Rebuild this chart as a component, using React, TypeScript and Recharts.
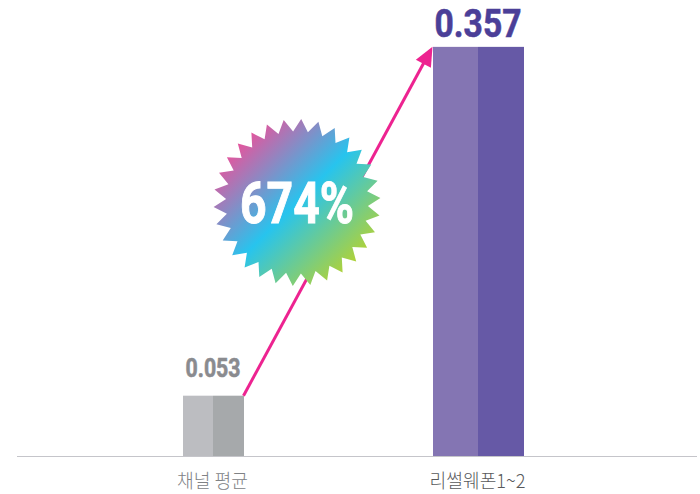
import { Bar, BarChart, ReferenceLine, XAxis, YAxis } from "recharts";

const categories = ["채널 평균", "리썰웨폰1~2"];
const frontValues = [0.053, 0.357];
const backValues = [0.053, 0.357];
const uplift = "674%";

const frontWidths = [30, 45];
const backWidths = [31, 46];
const frontColors = ["#bcbdc1", "#8475b3"];
const backColors = ["#a6a9ab", "#6659a6"];
const labelColors = ["#8a8b8f", "#4b3f98"];
const labelSizes = [25.5, 39.5];
const labelWidths = [55, 87];
const tickColors = ["#808285", "#58595b"];
const tickWidths = [71, 96];

const data = categories.map((name, i) => ({
  name,
  front: frontValues[i],
  back: backValues[i],
}));

const condensed = "Roboto, sans-serif";

const starPoints = (cx: number, cy: number, outer: number, inner: number, spikes: number) => {
  const pts: string[] = [];
  for (let i = 0; i < spikes * 2; i++) {
    const r = i % 2 === 0 ? outer : inner;
    const a = ((i * Math.PI) / spikes) - Math.PI / 2 + 0.05;
    pts.push(`${(cx + r * Math.cos(a)).toFixed(1)},${(cy + r * Math.sin(a)).toFixed(1)}`);
  }
  return pts.join(" ");
};

// arrow runs from the top corner of the first bar to the top corner of the second
const ArrowAndBadge = (props: any) => {
  const x1 = props.x1 + backWidths[0];
  const y1 = props.y1;
  const x2 = props.x2 - frontWidths[1];
  const y2 = props.y2;
  const angle = Math.atan2(y2 - y1, x2 - x1);
  const head = 21;
  const spread = 0.42;
  const p1 = [x2 - head * Math.cos(angle - spread), y2 - head * Math.sin(angle - spread)];
  const p2 = [x2 - head * Math.cos(angle + spread), y2 - head * Math.sin(angle + spread)];
  return (
    <g>
      <line
        x1={x1}
        y1={y1}
        x2={x2 - 15 * Math.cos(angle)}
        y2={y2 - 15 * Math.sin(angle)}
        stroke="#ed2390"
        strokeWidth={3}
      />
      <polygon points={`${x2},${y2} ${p1.join(",")} ${p2.join(",")}`} fill="#ed2390" />
      <polygon points={starPoints(297, 202.5, 83.5, 71, 30)} fill="url(#badge)" />
      <text
        x={297}
        y={223}
        textAnchor="middle"
        fontFamily={condensed}
        fontWeight={700}
        fontSize={58}
        textLength={114}
        lengthAdjust="spacingAndGlyphs"
        fill="#ffffff"
        stroke="#ffffff"
        strokeWidth={1}
      >
        {uplift}
      </text>
    </g>
  );
};

const FrontBar = (props: any) => {
  const w = frontWidths[props.index];
  return (
    <rect
      x={props.x + props.width - w}
      y={props.y}
      width={w}
      height={props.height}
      fill={frontColors[props.index]}
    />
  );
};

const BackBar = (props: any) => (
  <rect
    x={props.x}
    y={props.y}
    width={backWidths[props.index]}
    height={props.height}
    fill={backColors[props.index]}
  />
);

const ValueLabel = (props: any) => (
  <text
    x={props.x}
    y={props.y - (props.index === 0 ? 19 : 10)}
    textAnchor="middle"
    fontFamily={condensed}
    fontWeight={700}
    fontSize={labelSizes[props.index]}
    textLength={labelWidths[props.index]}
    lengthAdjust="spacingAndGlyphs"
    fill={labelColors[props.index]}
    stroke={labelColors[props.index]}
    strokeWidth={0.6}
  >
    {props.value.toFixed(3)}
  </text>
);

const CategoryTick = (props: any) => (
  <text
    x={props.x}
    y={props.y + 23}
    textAnchor="middle"
    fontFamily='"Noto Sans CJK KR", sans-serif'
    fontWeight={300}
    fontSize={19}
    textLength={tickWidths[props.index]}
    lengthAdjust="spacingAndGlyphs"
    fill={tickColors[props.index]}
  >
    {props.payload.value}
  </text>
);

export default function App() {
  return (
    <div style={{ position: "absolute", left: 0, top: 0 }}>
      <BarChart
        width={700}
        height={494}
        data={data}
        barSize={30}
        barGap={0}
        margin={{ top: 9, right: 3, bottom: 0, left: 17 }}
      >
        <defs>
          <linearGradient id="badge" x1="0.14" y1="0.14" x2="0.86" y2="0.86">
            <stop offset="0" stopColor="#e9529b" />
            <stop offset="0.5" stopColor="#27c4ee" />
            <stop offset="1" stopColor="#b2d235" />
          </linearGradient>
        </defs>
        <XAxis
          dataKey="name"
          height={37.5}
          padding={{ left: 63, right: 87 }}
          axisLine={{ stroke: "#c5c5ca" }}
          tickLine={false}
          tick={CategoryTick}
          interval={0}
        />
        <YAxis hide domain={[0, 0.39]} />
        <Bar dataKey="front" shape={FrontBar} isAnimationActive={false} />
        <Bar dataKey="back" shape={BackBar} label={ValueLabel} isAnimationActive={false} />
        <ReferenceLine
          segment={[
            { x: categories[0], y: frontValues[0] },
            { x: categories[1], y: frontValues[1] },
          ]}
          shape={(p: any) => (
            <ArrowAndBadge
              x1={p.x1}
              y1={p.y1}
              x2={p.x2}
              y2={p.y2}
            />
          )}
        />
      </BarChart>
    </div>
  );
}
